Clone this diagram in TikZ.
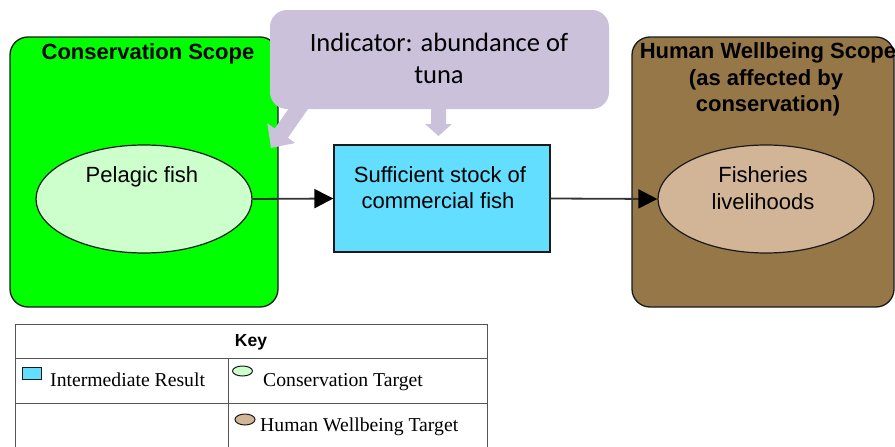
\documentclass[tikz,border=0pt]{standalone}
\usepackage{fontspec}
\setmainfont{Liberation Serif}
\setsansfont{Liberation Sans}
\newfontfamily\calibfont{Carlito}
\usetikzlibrary{arrows.meta,shapes.geometric}
\definecolor{scopegreen}{HTML}{00FF00}
\definecolor{targetgreen}{HTML}{CCFFCC}
\definecolor{irblue}{HTML}{63DEFF}
\definecolor{calloutlav}{HTML}{CBC1DB}
\definecolor{scopebrown}{HTML}{967748}
\definecolor{targettan}{HTML}{D2B596}
\definecolor{edgegray}{HTML}{1A1A1A}
\definecolor{tablegray}{HTML}{555555}
\definecolor{conngray}{HTML}{333333}
\begin{document}
\begin{tikzpicture}[x=1pt,y=-1pt,
  scopebox/.style={draw=edgegray, line width=1.3pt, rounded corners=18pt, inner sep=0pt},
  targetell/.style={ellipse, draw=edgegray, line width=1.2pt, inner sep=0pt, minimum width=216pt, minimum height=108pt},
  irbox/.style={rectangle, draw=edgegray, line width=1.2pt, fill=irblue, inner sep=0pt, minimum width=216pt, minimum height=107pt},
  titletext/.style={font=\sffamily\bfseries\fontsize{22}{27}\selectfont, inner sep=0pt, anchor=base},
  bodytext/.style={font=\sffamily\fontsize{22}{27}\selectfont, inner sep=0pt, anchor=base},
  callouttext/.style={font=\calibfont\fontsize{26.5}{32}\selectfont, inner sep=0pt, anchor=base},
  keytext/.style={font=\rmfamily\fontsize{19.7}{24}\selectfont, inner sep=0pt, anchor=base west},
  conn/.style={draw=conngray, line width=1.8pt, -{Triangle[length=19pt,width=19pt,color=black]}},
  tableline/.style={draw=tablegray, line width=1pt}
]
\useasboundingbox (0,0) rectangle (895,447);

% scopes
\node[scopebox, fill=scopegreen, minimum width=268pt, minimum height=270pt] (cscope) at (144,172) {};
\node[scopebox, fill=scopebrown, minimum width=262pt, minimum height=270pt] (hscope) at (763,172) {};
\node[titletext] (ctitle) at (148,59) {Conservation Scope};
\node[titletext] (htitle1) at (768,58) {Human Wellbeing Scope};
\node[titletext] (htitle2) at (766,85) {(as affected by};
\node[titletext] (htitle3) at (768,111) {conservation)};

% callout
\fill[calloutlav, rounded corners=17pt] (270,10) rectangle (609,109);
\fill[calloutlav] (294.7,100) -- (274.7,128.6) -- (267.4,123.4) -- (271,148) -- (295.2,143) -- (287.9,137.8) -- (314.3,100) -- cycle;
\fill[calloutlav] (431,100) -- (431,124) -- (425,124) -- (438.5,136) -- (452,124) -- (446,124) -- (446,100) -- cycle;
\node[callouttext] (ind1) at (439,51) {Indicator: abundance of};
\node[callouttext] (ind2) at (439,83) {tuna};

% main nodes
\node[targetell, fill=targetgreen] (pel) at (144,199) {};
\node[bodytext] (peltext) at (142,182) {Pelagic fish};
\node[irbox] (ir) at (442,198.5) {};
\node[bodytext] (irtext1) at (440,182) {Sufficient stock of};
\node[bodytext] (irtext2) at (438,208) {commercial fish};
\node[targetell, fill=targettan] (fish) at (766,199) {};
\node[bodytext] (fishtext1) at (763,182) {Fisheries};
\node[bodytext] (fishtext2) at (763,209) {livelihoods};

% connectors
\draw[conn] (pel.east) -- (ir.west);
\draw[conn] (ir.east) -- (fish.west);

% key table
\draw[tableline] (15,448) -- (15,324) -- (487,324) -- (487,448);
\draw[tableline] (15,358) -- (487,358);
\draw[tableline] (15,403) -- (487,403);
\draw[tableline] (228,358) -- (228,448);
\node[font=\sffamily\bfseries\fontsize{17.5}{21}\selectfont, inner sep=0pt, anchor=base] (keyhead) at (251,346) {Key};
\node[draw=edgegray, line width=1pt, fill=irblue, inner sep=0pt, minimum width=19pt, minimum height=12pt] (keyir) at (31.5,373) {};
\node[keytext] (keyirtext) at (50,386) {Intermediate Result};
\node[ellipse, draw=edgegray, line width=1pt, fill=targetgreen, inner sep=0pt, minimum width=20pt, minimum height=10pt] (keyct) at (242.5,371) {};
\node[keytext] (keycttext) at (263,386) {Conservation Target};
\node[ellipse, draw=edgegray, line width=1pt, fill=targettan, inner sep=0pt, minimum width=20pt, minimum height=11pt] (keyhw) at (245,419.5) {};
\node[keytext] (keyhwtext) at (260,431) {Human Wellbeing Target};
\end{tikzpicture}
\end{document}
